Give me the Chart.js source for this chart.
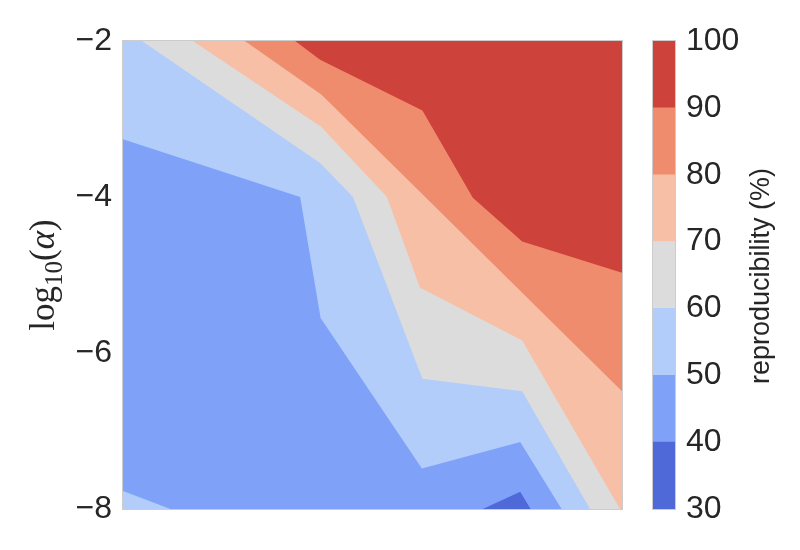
<!DOCTYPE html>
<html><head><meta charset="utf-8">
<script src="https://cdn.jsdelivr.net/npm/chart.js@4.4.1/dist/chart.umd.min.js"></script>
<style>
html,body{margin:0;padding:0;background:#fff;}
#wrap{position:relative;width:800px;height:550px;overflow:hidden;}
#main{position:absolute;left:0;top:0;}
#cbar{position:absolute;left:640px;top:0;}
</style></head><body>
<div id="wrap">
<canvas id="main" width="640" height="550"></canvas>
<canvas id="cbar" width="160" height="550"></canvas>
</div>
<script>
// ---- data ----
const levels = [30, 40, 50, 60, 70, 80, 90, 100];
const levelColors = ['#4f69d9', '#7fa2f8', '#b3cdfb', '#dcdcdc', '#f6bfa6', '#f08c6e', '#cd423b'];
const yTicks = [-2, -4, -6, -8];
// contour boundary lines, x in relative units 0..100, y = log10(alpha)
const contour90 = [[34.5,-2],[39.5,-2.24],[60,-2.89],[70.1,-4.01],[80,-4.57],[100,-4.97]];
const contour80 = [[24.4,-2],[39.8,-2.69],[100,-6.49]];
const contour70 = [[14.0,-2],[39.7,-3.10],[52.9,-4.0],[59.5,-5.16],[80,-5.84],[99.6,-8],[100,-8]];
const contour60 = [[3.8,-2],[39.5,-3.565],[46.1,-4.0],[60,-6.33],[80,-6.49],[93.6,-8],[100,-8]];
const contour50 = [[0,-3.26],[35.5,-4.0],[39.6,-5.55],[59.9,-7.48],[79.6,-7.14],[87.9,-8],[100,-8]];
const patch50low = [[0,-7.77],[9.5,-8]];
const patch30 = [[72.1,-8],[79.6,-7.78],[81.7,-8]];
const floor40 = [[0,-8],[100,-8]];

const FONT = "'Liberation Sans', Arial, sans-serif";
const TXT = '#262626';

function pts(a){ return a.map(p => ({x:p[0], y:p[1]})); }
function ds(arr, color, fill){
  return {data: pts(arr), showLine:true, fill: fill, backgroundColor: color,
          borderColor:'rgba(0,0,0,0)', borderWidth:0, pointRadius:0, tension:0};
}

const frame = {
  id:'frame',
  afterDatasetsDraw(chart){
    const a = chart.chartArea, c = chart.ctx;
    c.save(); c.strokeStyle = '#cccccc'; c.lineWidth = 1;
    c.strokeRect(Math.round(a.left)-0.5, Math.round(a.top)-0.5, Math.round(a.right-a.left)+1, Math.round(a.bottom-a.top)+1);
    c.restore();
  }
};

const yTitle = {
  id:'yTitle',
  afterDraw(chart){
    const c = chart.ctx;
    const fs = 35, fam = "'Liberation Serif', 'DejaVu Serif', serif";
    c.save();
    c.translate(54, 275);
    c.rotate(-Math.PI/2);
    c.fillStyle = TXT; c.textBaseline = 'alphabetic'; c.textAlign = 'left';
    const parts = [
      {t:'log', f:`${fs}px ${fam}`, dy:0},
      {t:'10', f:`${Math.round(fs*0.7)}px ${fam}`, dy:fs*0.22},
      {t:'(', f:`${fs}px ${fam}`, dy:0},
      {t:'\u03b1', f:`italic ${fs}px ${fam}`, dy:0},
      {t:')', f:`${fs}px ${fam}`, dy:0}
    ];
    let w = 0;
    parts.forEach(p => { c.font = p.f; p.w = c.measureText(p.t).width; w += p.w; });
    let x = -w/2;
    parts.forEach(p => { c.font = p.f; c.fillText(p.t, x, p.dy); x += p.w; });
    c.restore();
  }
};

new Chart(document.getElementById('main'), {
  type:'scatter',
  data:{ datasets:[
    ds(contour90, levelColors[6], 'end'),
    ds(contour80, levelColors[5], 'end'),
    ds(contour70, levelColors[4], 'end'),
    ds(contour60, levelColors[3], 'end'),
    ds(patch50low, levelColors[2], 'start'),
    ds(patch30, levelColors[0], 'start'),
    ds(contour50, levelColors[2], 'end'),
    ds(floor40, levelColors[1], 'end')
  ]},
  options:{
    responsive:false, animation:false, devicePixelRatio:1,
    layout:{padding:{left:0, right:18, top:41, bottom:41}},
    plugins:{legend:{display:false}, tooltip:{enabled:false}},
    events:[],
    scales:{
      x:{type:'linear', min:0, max:100, display:false},
      y:{type:'linear', min:-8, max:-2,
         afterBuildTicks(s){ s.ticks = yTicks.map(v => ({value:v})); },
         ticks:{font:{size:32, family:FONT}, color:TXT, padding:11,
                callback:v => (v<0 ? '\u2212' : '') + Math.abs(v)},
         grid:{display:false, drawTicks:false}, border:{display:false},
         afterFit(s){ s.width = 123; }
      }
    }
  },
  plugins:[frame, yTitle]
});

const cbTitle = {
  id:'cbTitle',
  afterDraw(chart){
    const c = chart.ctx;
    c.save();
    c.translate(129, 276);
    c.rotate(-Math.PI/2);
    c.fillStyle = TXT; c.font = `27px ${FONT}`;
    c.textAlign = 'center'; c.textBaseline = 'alphabetic';
    c.fillText('reproducibility (%)', 0, 0);
    c.restore();
  }
};

new Chart(document.getElementById('cbar'), {
  type:'bar',
  data:{ labels:[''], datasets: levelColors.map((col, i) => ({
    data:[[levels[i], levels[i+1]]], backgroundColor:col, borderWidth:0,
    barPercentage:1, categoryPercentage:1, grouped:false
  }))},
  options:{
    responsive:false, animation:false, devicePixelRatio:1,
    layout:{padding:{left:13, right:0, top:41, bottom:41}},
    plugins:{legend:{display:false}, tooltip:{enabled:false}},
    events:[],
    scales:{
      x:{display:false},
      y:{position:'right', min:30, max:100,
         afterBuildTicks(s){ s.ticks = levels.map(v => ({value:v})); },
         ticks:{font:{size:32, family:FONT}, color:TXT, padding:11},
         grid:{display:false, drawTicks:false}, border:{display:false},
         afterFit(s){ s.width = 125; }
      }
    }
  },
  plugins:[frame, cbTitle]
});
</script>
</body></html>
